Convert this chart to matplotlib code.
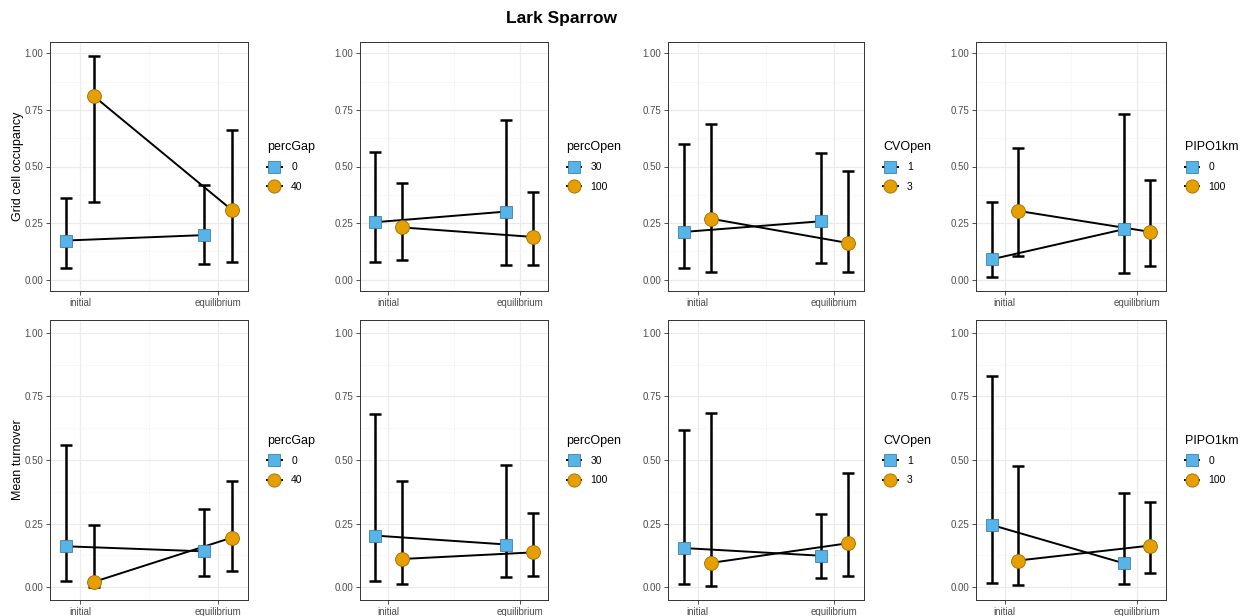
import numpy as np
import matplotlib
matplotlib.use('Agg')
import matplotlib.pyplot as plt
from matplotlib.lines import Line2D
from matplotlib.ticker import MultipleLocator, FixedLocator

plt.rcParams['font.family'] = ['Liberation Sans', 'DejaVu Sans']

stages = ['initial', 'equilibrium']
factors = ['percGap', 'percOpen', 'CVOpen', 'PIPO1km']
levels = [['0', '40'], ['30', '100'], ['1', '3'], ['0', '100']]

# [factor][level][stage]
occ_mean = [[[0.173, 0.197], [0.811, 0.308]],
            [[0.254, 0.301], [0.231, 0.189]],
            [[0.211, 0.258], [0.269, 0.162]],
            [[0.090, 0.223], [0.304, 0.211]]]
occ_lo = [[[0.051, 0.070], [0.344, 0.078]],
          [[0.078, 0.066], [0.087, 0.066]],
          [[0.051, 0.075], [0.032, 0.032]],
          [[0.012, 0.029], [0.104, 0.059]]]
occ_hi = [[[0.363, 0.418], [0.987, 0.662]],
          [[0.564, 0.706], [0.427, 0.386]],
          [[0.601, 0.559], [0.689, 0.482]],
          [[0.342, 0.731], [0.580, 0.442]]]

turn_mean = [[[0.161, 0.141], [0.021, 0.195]],
             [[0.203, 0.168], [0.111, 0.137]],
             [[0.154, 0.124], [0.096, 0.173]],
             [[0.245, 0.094], [0.105, 0.164]]]
turn_lo = [[[0.023, 0.044], [0.002, 0.065]],
           [[0.024, 0.041], [0.013, 0.046]],
           [[0.012, 0.037], [0.005, 0.043]],
           [[0.018, 0.012], [0.009, 0.056]]]
turn_hi = [[[0.559, 0.307], [0.245, 0.418]],
           [[0.681, 0.479], [0.416, 0.292]],
           [[0.616, 0.289], [0.683, 0.449]],
           [[0.830, 0.369], [0.476, 0.334]]]

row_labels = ['Grid cell occupancy', 'Mean turnover']

colors = ['#56B4E9', '#E69F00']
edges = ['#3F7FA3', '#9C6B00']
markers = ['s', 'o']
msizes = [9, 10]
dodge = [-0.1, 0.1]

W, H = 1250, 616
fig = plt.figure(figsize=(W / 100, H / 100), dpi=100)

cols_px = [(50, 248), (360, 548), (668, 864), (976, 1166)]
rows_px = [(42, 291), (320, 600)]


def px_axes(l, r, t, b):
    return fig.add_axes([l / W, 1 - b / H, (r - l) / W, (b - t) / H])


data = [(occ_mean, occ_lo, occ_hi), (turn_mean, turn_lo, turn_hi)]
x = np.arange(1, len(stages) + 1)

for ri, (t, b) in enumerate(rows_px):
    means, los, his = data[ri]
    for ci, (l, r) in enumerate(cols_px):
        ax = px_axes(l, r, t, b)
        for k in range(2):
            xs = x + dodge[k]
            m = np.array(means[ci][k])
            lo = np.array(los[ci][k])
            hi = np.array(his[ci][k])
            ax.errorbar(xs, m, yerr=[m - lo, hi - m], fmt='none',
                        ecolor='black', elinewidth=1.8, capsize=4.4,
                        capthick=1.8, zorder=2)
            ax.plot(xs, m, color='black', lw=1.4, zorder=3)
            ax.plot(xs, m, ls='none', marker=markers[k], ms=msizes[k],
                    mfc=colors[k], mec=edges[k], mew=0.6, zorder=4)

        ax.set_xlim(0.783, 2.217)
        ax.set_ylim(-0.05, 1.05)
        ax.xaxis.set_major_locator(FixedLocator(x))
        ax.xaxis.set_minor_locator(FixedLocator([1.5]))
        ax.set_xticklabels(stages)
        ax.yaxis.set_major_locator(MultipleLocator(0.25))
        ax.yaxis.set_minor_locator(MultipleLocator(0.125))
        ax.set_yticklabels([f'{v:.2f}' for v in ax.get_yticks()])
        ax.grid(which='major', color='#EBEBEB', lw=0.9)
        ax.grid(which='minor', color='#F4F4F4', lw=0.5)
        ax.set_axisbelow(True)
        ax.tick_params(which='major', length=3, width=0.6, color='#333333',
                       labelsize=7, labelcolor='#4D4D4D', pad=2)
        ax.tick_params(which='minor', length=0)
        for s in ax.spines.values():
            s.set_color('#333333')
            s.set_linewidth(0.7)
        if ci == 0:
            ax.set_ylabel(row_labels[ri], fontsize=9, labelpad=0)

        handles = [Line2D([], [], color='black', lw=1.4, marker=markers[k],
                          ms=msizes[k] * 0.95, mfc=colors[k], mec=edges[k],
                          mew=0.6) for k in range(2)]
        ax.legend(handles, levels[ci], title=factors[ci], loc='center left',
                  bbox_to_anchor=(1.06, 0.5), frameon=False, fontsize=7.5,
                  title_fontsize=9, handlelength=1.4, handletextpad=0.9,
                  labelspacing=0.9, borderpad=0.2, alignment='left')

fig.text(561 / W, 1 - 19 / H, 'Lark Sparrow', ha='center', va='center',
         fontsize=12.5, fontweight='bold')

fig.savefig('out.png', dpi=100, facecolor='white')
